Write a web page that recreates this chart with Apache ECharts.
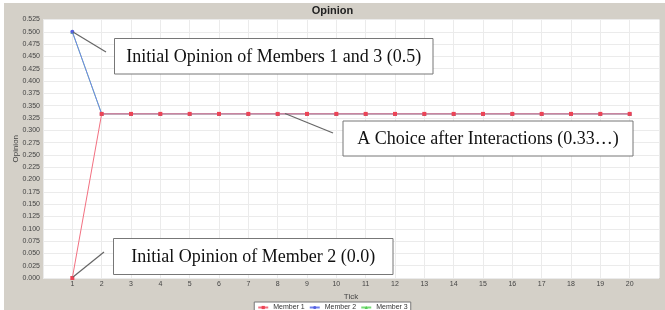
<!DOCTYPE html>
<html><head><meta charset="utf-8">
<script src="https://cdn.jsdelivr.net/npm/echarts@6/dist/echarts.min.js"></script>
<style>html,body{margin:0;padding:0;background:#fff}#c{width:665px;height:310px}</style>
</head><body><div id="c"></div>
<script>
const ticks = [1,2,3,4,5,6,7,8,9,10,11,12,13,14,15,16,17,18,19,20];
const member1 = [0.0,0.3333,0.3333,0.3333,0.3333,0.3333,0.3333,0.3333,0.3333,0.3333,0.3333,0.3333,0.3333,0.3333,0.3333,0.3333,0.3333,0.3333,0.3333,0.3333];
const member2 = [0.5,0.3333,0.3333,0.3333,0.3333,0.3333,0.3333,0.3333,0.3333,0.3333,0.3333,0.3333,0.3333,0.3333,0.3333,0.3333,0.3333,0.3333,0.3333,0.3333];
const member3 = [0.5,0.3333,0.3333,0.3333,0.3333,0.3333,0.3333,0.3333,0.3333,0.3333,0.3333,0.3333,0.3333,0.3333,0.3333,0.3333,0.3333,0.3333,0.3333,0.3333];
const seriesNames = ['Member 1','Member 2','Member 3'];
const annotations = [
  'Initial Opinion of Members 1 and 3 (0.5)',
  'A Choice after Interactions (0.33…)',
  'Initial Opinion of Member 2 (0.0)'
];

const chart = echarts.init(document.getElementById('c'), null, {renderer:'canvas'});
const pair = (vals) => ticks.map((t,i)=>[t, vals[i]]);
const lbl = {fontFamily:'Liberation Sans, Arial, sans-serif', fontSize:7, color:'#444'};
const annFont = {fontFamily:'Liberation Serif, Times New Roman, serif', fontSize:18, fill:'#111'};

function annBox(x,y,w,h,text){
  return [
    {type:'rect', shape:{x:x,y:y,width:w,height:h}, style:{fill:'#fff', stroke:'#777', lineWidth:1}, z:100},
    {type:'text', x:x+w/2, y:y+h/2+1, style:Object.assign({text:text, align:'center', verticalAlign:'middle'}, annFont), z:101}
  ];
}
function annLine(x1,y1,x2,y2){
  return {type:'line', shape:{x1:x1,y1:y1,x2:x2,y2:y2}, style:{stroke:'#666', lineWidth:1.2}, z:100};
}

const option = {
  animation:false,
  backgroundColor:'#fff',
  graphic:[
    {type:'rect', shape:{x:4,y:3,width:661,height:307}, style:{fill:'#d4d0c8'}, z:-10, silent:true},
    ...annBox(114.5,38.5,318.5,35.5,annotations[0]),
    annLine(73,32,106,52),
    ...annBox(343,121,290,35,annotations[1]),
    annLine(285,113.5,333,133),
    ...annBox(113.5,238.5,279.5,36,annotations[2]),
    annLine(104,252,73,277)
  ],
  title:{text:'Opinion', left:'center', top:0, textStyle:{fontFamily:'Liberation Sans, Arial, sans-serif', fontSize:11, fontWeight:'bold', color:'#222'}},
  grid:{left:43, right:6, top:19.5, bottom:32, show:true, backgroundColor:'#fff', borderWidth:0, containLabel:false, outerBoundsMode:'none'},
  xAxis:{
    type:'value', min:0, max:21, interval:1,
    name:'Tick', nameLocation:'middle', nameGap:15, nameMoveOverlap:false,
    nameTextStyle:Object.assign({}, lbl, {fontSize:8}),
    axisLine:{show:false}, axisTick:{show:false},
    axisLabel:Object.assign({}, lbl, {margin:3, formatter:(v)=> (v>=1 && v<=20) ? String(v) : ''}),
    splitLine:{show:true, lineStyle:{color:'#ebebeb', width:1}}
  },
  yAxis:{
    type:'value', min:0, max:0.525, interval:0.025,
    name:'Opinion', nameLocation:'middle', nameGap:23, nameRotate:90, nameMoveOverlap:false,
    nameTextStyle:Object.assign({}, lbl, {fontSize:8}),
    axisLine:{show:false}, axisTick:{show:false},
    axisLabel:Object.assign({}, lbl, {margin:3, formatter:(v)=>v.toFixed(3)}),
    splitLine:{show:true, lineStyle:{color:'#ebebeb', width:1}}
  },
  legend:{
    top:302, left:'center', padding:[2,3,2,3],
    backgroundColor:'#fff', borderColor:'#777', borderWidth:1, borderRadius:0,
    itemWidth:10, itemHeight:4, itemGap:4,
    textStyle:Object.assign({}, lbl, {fontSize:7, color:'#333'}),
    data:seriesNames
  },
  series:[
    {name:seriesNames[0], type:'line', data:pair(member1), z:5, symbol:'rect', symbolSize:4,
     itemStyle:{color:'#ee4455'}, lineStyle:{color:'#f27080', width:1}},
    {name:seriesNames[1], type:'line', data:pair(member2), z:4, symbol:'circle', symbolSize:4,
     itemStyle:{color:'#5560e0'}, lineStyle:{color:'#7080ee', width:1}},
    {name:seriesNames[2], type:'line', data:pair(member3), z:3, symbol:'triangle', symbolSize:4,
     itemStyle:{color:'#55cc55'}, lineStyle:{color:'#77dd77', width:1}}
  ]
};
chart.setOption(option);
</script></body></html>
